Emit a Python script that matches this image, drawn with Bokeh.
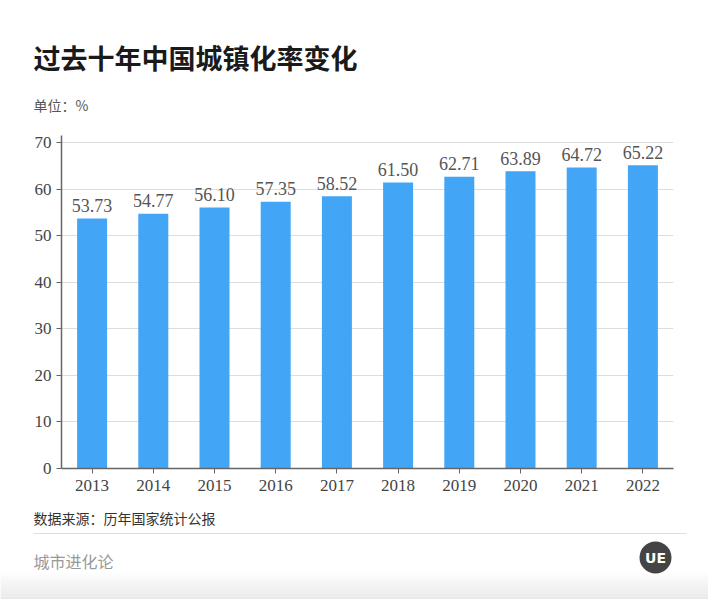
from bokeh.plotting import figure
from bokeh.models import ColumnDataSource, Range1d, FactorRange, FixedTicker
from bokeh.core.properties import value
from bokeh.embed import file_html
from bokeh.resources import INLINE

# ---- data ----
years = ["2013", "2014", "2015", "2016", "2017", "2018", "2019", "2020", "2021", "2022"]
rates = [53.73, 54.77, 56.10, 57.35, 58.52, 61.50, 62.71, 63.89, 64.72, 65.22]
rate_labels = ["%.2f" % r for r in rates]
y_ticks = [0, 10, 20, 30, 40, 50, 60, 70]

title_text = "过去十年中国城镇化率变化"
unit_text = "单位：%"
source_text = "数据来源：历年国家统计公报"
brand_text = "城市进化论"

W = 708
BAR_COLOR = "#42A5F5"
SERIF = "Liberation Serif"
CJK = "Noto Sans CJK SC"

def blank(h):
    f = figure(width=W, height=h, x_range=Range1d(0, W), y_range=Range1d(h, 0),
               x_axis_type=None, y_axis_type=None, toolbar_location=None,
               output_backend="svg", min_border=0)
    f.outline_line_color = None
    f.grid.visible = False
    return f

# ---- header: page y 0..120 ----
HH = 120
head = blank(HH)
head.text(x=[33], y=[57], text=[title_text], text_font=value(CJK), text_font_size="27px",
          text_font_style="bold", text_color="#1a1a1a", text_baseline="middle", text_align="left")
head.text(x=[33], y=[104], text=[unit_text], text_font=value(CJK), text_font_size="14px",
          text_color="#555555", text_baseline="middle", text_align="left")

# ---- main chart: page y 120..503, frame 61..673 x 135..468 ----
MH = 383
src = ColumnDataSource(dict(year=years, rate=rates, label=rate_labels))
p = figure(width=W, height=MH, x_range=FactorRange(*years, range_padding=0),
           y_range=Range1d(0, 71.6), toolbar_location=None, output_backend="svg",
           min_border_left=61, min_border_right=35, min_border_top=15, min_border_bottom=35)
p.outline_line_color = None
p.vbar(x="year", top="rate", width=0.49, source=src, color=BAR_COLOR, line_color=None)
p.text(x="year", y="rate", text="label", source=src, text_font=value(SERIF),
       text_font_size="18px", text_color="#555555", text_align="center",
       text_baseline="alphabetic", y_offset=-13)
p.xgrid.visible = False
p.ygrid.grid_line_color = "#dddddd"
p.ygrid.grid_line_width = 1
p.yaxis.ticker = FixedTicker(ticks=y_ticks)
for ax in (p.xaxis, p.yaxis):
    ax.axis_line_color = "#666666"
    ax.axis_line_width = 1.5
    ax.major_tick_line_color = "#666666"
    ax.major_tick_out = 5
    ax.major_tick_in = 0
    ax.minor_tick_line_color = None
    ax.major_label_text_font = SERIF
    ax.major_label_text_font_size = "17px"
    ax.major_label_text_color = "#444444"
p.xaxis.major_label_standoff = 6
p.yaxis.major_label_standoff = 5

# ---- footer: page y 503..599 ----
FH = 96
foot = blank(FH)
# soft grey shading at the very bottom
n_strips = 9
for i in range(n_strips):
    y0 = 69 + i * 3
    foot.quad(left=0, right=W, top=y0, bottom=y0 + 3, fill_color="#e4e4e4",
              fill_alpha=(i + 1) / n_strips * 0.8, line_color=None)
foot.text(x=[33], y=[14], text=[source_text], text_font=value(CJK), text_font_size="14px",
          text_color="#333333", text_baseline="middle", text_align="left")
foot.segment(x0=[33], y0=[30], x1=[686], y1=[30], line_color="#dddddd", line_width=1)
foot.text(x=[33], y=[57], text=[brand_text], text_font=value(CJK), text_font_size="16px",
          text_color="#999999", text_baseline="middle", text_align="left")
foot.scatter(x=[655], y=[54], size=32, marker="circle", fill_color="#444444", line_color=None)
foot.text(x=[655], y=[54], text=["UE"], text_font=value("DejaVu Sans"), text_font_size="14px",
          text_font_style="bold", text_color="#ffffff", text_baseline="middle", text_align="center")

open("out.html", "w").write(file_html([head, p, foot], INLINE))
